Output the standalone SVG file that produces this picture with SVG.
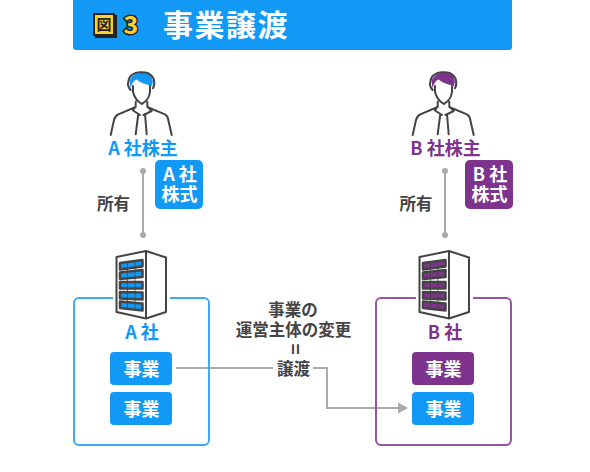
<svg xmlns="http://www.w3.org/2000/svg" width="590" height="472" viewBox="0 0 590 472">
<style>
text{font-family:"Noto Sans CJK JP","Noto Sans",sans-serif;font-weight:700}
.t{font-size:16.500px;text-anchor:middle;fill:#444}
.w{font-size:18px;text-anchor:middle;fill:#fff}
.h{font-size:18px;text-anchor:middle}
.b{fill:#1199f5;color:#1199f5}.p{fill:#7e348c;color:#7e348c}
.ol{fill:none;stroke:#444;stroke-width:2;stroke-linejoin:round;stroke-linecap:round}
.lk{fill:none;stroke:#aaa;stroke-width:2}
</style>
<defs>
<g id="bld">
<path d="M116.500 257L146 251L166 257.500V312L146 318.500L116.500 312ZM146 251V318.500" fill="#fff" stroke="#444" stroke-width="2" stroke-linejoin="round"/>
<path d="M120 263L142.500 260V266.500L120 269.500ZM120 272.500L142.500 270V277L120 279ZM120 282L142.500 282V288.500L120 288.500ZM120 292L142.500 292.500V299.500L120 298.500ZM120 301.500L142.500 303.500V310.500L120 308Z" fill="currentColor" stroke="#444" stroke-width="2.500" stroke-linejoin="round"/>
<path d="M127.500 261V309M135 260V310" fill="none" stroke="#444" stroke-width=".8"/>
</g>
<g id="man">
<path d="M130.500 88Q133 80 136.700 79.500Q140 83 152 86Q154 80 151 76Q146 72 139 73Q132 74 129.500 81Z" fill="currentColor"/>
<path class="ol" d="M130.700 90Q127 86 128.300 81.700Q129 77 131.700 75Q136 72 140 72.300Q145 72 148.300 73.300Q153 76 154 80Q155 85 153 88.300M133 86V92Q135 100 141.700 104Q149 100 150 92V86M135.700 101.700V107L118.300 114.300Q115 116 114 120L110.700 135M147.300 101.700V107L165 114.300Q168 116 168.300 120L171.700 135M135.500 106.500L133 110.500L140 115M147.300 106.500L151.700 111L143.500 115M138.300 114L135.700 134.300M145 114L146.700 134.300"/>
</g>
</defs>
<g id="header"><path d="M73 0H512V47Q512 50 509 50H76Q73 50 73 47Z" class="b"/>
<g id="fig-badge"><rect x="95" y="15" width="22" height="23" fill="#222"/><rect x="94" y="14" width="20" height="21" fill="#ffcf2e" stroke="#222" stroke-width="2"/><text x="104" y="30" font-size="15" text-anchor="middle" fill="#222" font-weight="900">図</text><text x="131" y="34" font-size="25" text-anchor="middle" fill="#ffcf2e" stroke="#222" stroke-width="3" paint-order="stroke" font-weight="900">3</text></g>
<text x="226" y="36" font-size="30" text-anchor="middle" fill="#fff" letter-spacing="1.500">事業譲渡</text></g>
<g id="connectors">
<path class="lk" d="M143 171V235M445 171V235"/>
<circle cx="143" cy="171" r="3" fill="#aaa"/><circle cx="143" cy="235" r="3" fill="#aaa"/><circle cx="445" cy="171" r="3" fill="#aaa"/><circle cx="445" cy="235" r="3" fill="#aaa"/>
<path class="lk" d="M176 368H273M313 368H327V408H398"/><path d="M398 402.500L408 408L398 413.500Z" fill="#aaa"/>
</g>
<g id="company-a"><rect x="74" y="298" width="135" height="147" rx="5" fill="none" stroke="#3fa9f5" stroke-width="2"/><rect x="113" y="290" width="57" height="16" fill="#fff"/>
<use href="#bld" class="b"/>
<text x="142" y="339" class="h b">A 社</text></g>
<g id="biz-a1"><rect x="110" y="352" width="62" height="33" rx="4" class="b"/><text class="w" x="141.500" y="375.500">事業</text></g>
<g id="biz-a2"><rect x="110" y="392" width="62" height="33" rx="4" class="b"/><text class="w" x="141.500" y="415.500">事業</text></g>
<g id="company-b"><rect x="376" y="298" width="135" height="147" rx="5" fill="none" stroke="#94569f" stroke-width="2"/><rect x="416" y="290" width="57" height="16" fill="#fff"/>
<use href="#bld" x="303" class="p"/>
<text x="445" y="339" class="h p">B 社</text></g>
<g id="biz-b1"><rect x="412" y="352" width="62" height="33" rx="4" class="p"/><text class="w" x="443.500" y="375.500">事業</text></g>
<g id="biz-b2"><rect x="412" y="392" width="62" height="33" rx="4" class="b"/><text class="w" x="443.500" y="415.500">事業</text></g>
<g id="holder-a"><use href="#man" class="b"/><text x="143" y="155" class="h b">A 社株主</text></g>
<g id="holder-b"><use href="#man" x="302" class="p"/><text x="445.500" y="155" class="h p">B 社株主</text></g>
<g id="share-a"><rect x="155" y="160" width="48" height="49" rx="5" class="b"/><text class="w"><tspan x="180" y="181">A 社</tspan><tspan x="179.500" y="200.500">株式</tspan></text></g>
<g id="share-b"><rect x="465" y="160" width="48" height="49" rx="5" class="p"/><text class="w"><tspan x="490" y="181">B 社</tspan><tspan x="489.500" y="200.500">株式</tspan></text></g>
<text class="t" x="113.500" y="210">所有</text>
<text class="t" x="416" y="210">所有</text>
<g id="note"><text class="t"><tspan x="293" y="316">事業の</tspan><tspan x="293.500" y="335.500">運営主体の変更</tspan></text><text class="t" transform="translate(294 349) rotate(90)" x="0" y="6" style="font-size:19px">=</text><text class="t" x="293.500" y="375">譲渡</text></g>
</svg>
